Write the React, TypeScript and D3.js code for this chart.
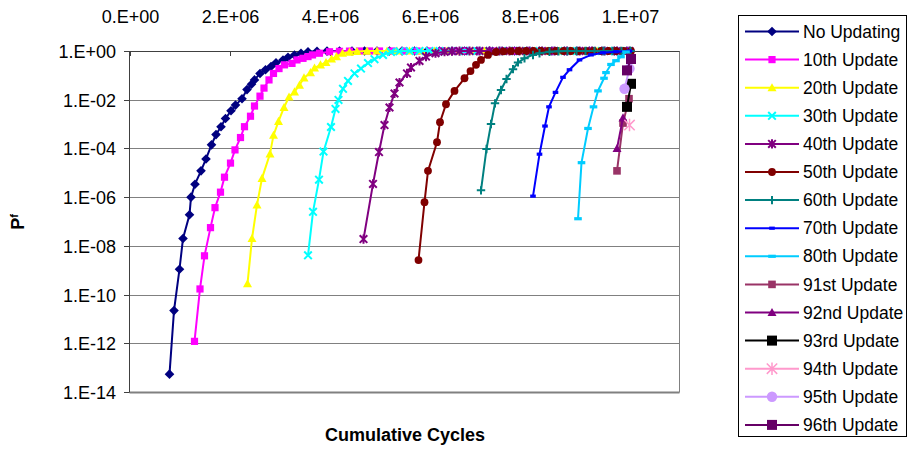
import React, { useEffect, useRef } from 'react';
import * as d3 from 'd3';

// [cumulative cycles (millions), Pf]
const noUpdating = [
  [0.80, 5.4e-14], [0.89, 2.2e-11], [1.00, 1.1e-9], [1.07, 2.0e-8], [1.20, 1.9e-7], [1.23, 1.0e-6],
  [1.31, 3.4e-6], [1.43, 1.2e-5], [1.53, 3.7e-5], [1.64, 1.4e-4], [1.73, 3.7e-4], [1.83, 7.8e-4],
  [1.92, 1.7e-3], [2.03, 3.5e-3], [2.12, 6.0e-3], [2.25, 1.1e-2], [2.35, 2.6e-2], [2.44, 4.3e-2],
  [2.50, 6.5e-2], [2.61, 0.12], [2.72, 0.17], [2.83, 0.23], [2.93, 0.33], [3.07, 0.43], [3.17, 0.55],
  [3.30, 0.69], [3.43, 0.81], [3.57, 0.93], [3.75, 0.97], [3.95, 0.99], [4.2, 1], [4.45, 1], [4.7, 1],
  [4.95, 1], [5.2, 1], [5.45, 1], [5.7, 1], [5.95, 1], [6.2, 1], [6.45, 1], [6.7, 1], [6.95, 1], [7.2, 1],
  [7.45, 1], [7.7, 1], [7.95, 1], [8.2, 1], [8.45, 1], [8.7, 1], [8.95, 1], [9.2, 1], [9.45, 1], [9.7, 1], [9.95, 1],
];
const update10 = [
  [1.30, 1.2e-12], [1.41, 1.7e-10], [1.50, 3.9e-9], [1.62, 5.6e-8], [1.71, 3.7e-7], [1.82, 1.6e-6],
  [1.90, 6.6e-6], [2.02, 2.5e-5], [2.11, 8.7e-5], [2.22, 2.8e-4], [2.30, 7.8e-4], [2.42, 2.1e-3],
  [2.50, 5.5e-3], [2.61, 1.4e-2], [2.69, 3.0e-2], [2.79, 6.5e-2], [2.88, 0.12], [2.99, 0.19], [3.10, 0.27],
  [3.25, 0.31], [3.35, 0.43], [3.47, 0.50], [3.57, 0.59], [3.66, 0.69], [3.80, 0.81], [4.00, 0.93],
  [4.2, 0.97], [4.4, 0.99], [4.6, 1], [4.8, 1], [5.0, 1], [5.25, 1], [5.5, 1], [5.75, 1], [6.0, 1], [6.25, 1],
  [6.5, 1], [6.75, 1], [7.0, 1], [7.25, 1], [7.5, 1], [7.75, 1], [8.0, 1], [8.25, 1], [8.5, 1], [8.75, 1],
  [9.0, 1], [9.25, 1], [9.5, 1], [9.75, 1], [10.0, 1],
];
const update20 = [
  [2.36, 2.8e-10], [2.45, 2.0e-8], [2.55, 4.8e-7], [2.65, 5.9e-6], [2.81, 6.0e-5], [2.88, 3.5e-4],
  [2.98, 1.3e-3], [3.09, 4.8e-3], [3.19, 1.3e-2], [3.30, 2.1e-2], [3.40, 4.0e-2], [3.49, 7.9e-2],
  [3.62, 0.13], [3.70, 0.20], [3.82, 0.27], [3.93, 0.34], [4.04, 0.47], [4.14, 0.59], [4.26, 0.81],
  [4.4, 0.9], [4.55, 0.96], [4.75, 0.99], [4.95, 1], [5.15, 1], [5.35, 1], [5.6, 1], [5.85, 1], [6.1, 1],
  [6.35, 1], [6.6, 1], [6.85, 1], [7.1, 1], [7.35, 1], [7.6, 1], [7.85, 1], [8.1, 1], [8.35, 1], [8.6, 1],
  [8.85, 1], [9.1, 1], [9.35, 1], [9.6, 1], [9.85, 1],
];
const update30 = [
  [3.57, 4.1e-9], [3.67, 2.5e-7], [3.79, 5.2e-6], [3.88, 7.4e-5], [4.03, 7.6e-4], [4.12, 4.2e-3],
  [4.18, 9.8e-3], [4.27, 2.8e-2], [4.37, 5.9e-2], [4.50, 0.12], [4.63, 0.19], [4.77, 0.32], [4.90, 0.46],
  [5.07, 0.69], [5.23, 0.91], [5.4, 0.97], [5.6, 0.99], [5.8, 1], [6.0, 1], [6.2, 1], [6.45, 1], [6.7, 1],
  [6.95, 1], [7.2, 1], [7.45, 1], [7.7, 1], [7.95, 1], [8.2, 1], [8.45, 1], [8.7, 1], [8.95, 1], [9.2, 1],
  [9.45, 1], [9.7, 1], [9.95, 1],
];
const update40 = [
  [4.68, 1.9e-8], [4.87, 3.5e-6], [4.99, 7.1e-5], [5.10, 9.1e-4], [5.20, 4.8e-3], [5.30, 1.8e-2],
  [5.40, 5.1e-2], [5.55, 0.12], [5.63, 0.21], [5.80, 0.39], [5.93, 0.59], [6.12, 0.81], [6.30, 0.93],
  [6.45, 0.98], [6.6, 0.99], [6.8, 1], [7.0, 1], [7.2, 1], [7.4, 1], [7.6, 1], [7.8, 1], [8.0, 1], [8.25, 1],
  [8.5, 1], [8.75, 1], [9.0, 1], [9.25, 1], [9.5, 1], [9.75, 1], [10.0, 1],
];
const update50 = [
  [5.78, 2.6e-9], [5.90, 6.2e-7], [5.97, 1.2e-5], [6.15, 1.8e-4], [6.21, 1.2e-3], [6.33, 6.5e-3],
  [6.50, 2.3e-2], [6.70, 7.6e-2], [6.82, 0.15], [6.93, 0.27], [7.03, 0.43], [7.17, 0.69], [7.33, 0.91],
  [7.48, 0.97], [7.63, 0.99], [7.78, 1], [7.93, 1], [8.08, 1], [8.23, 1], [8.38, 1], [8.53, 1], [8.68, 1],
  [8.83, 1], [8.98, 1], [9.13, 1], [9.28, 1], [9.43, 1], [9.58, 1], [9.73, 1], [9.88, 1], [10.03, 1],
];
const update60 = [
  [7.03, 1.9e-6], [7.14, 9.5e-5], [7.23, 1.0e-3], [7.31, 7.1e-3], [7.43, 2.5e-2], [7.54, 7.1e-2],
  [7.67, 0.18], [7.77, 0.34], [7.90, 0.50], [8.07, 0.69], [8.20, 0.81], [8.40, 0.93], [8.58, 0.98],
  [8.76, 0.99], [8.94, 1], [9.12, 1], [9.3, 1], [9.48, 1], [9.66, 1], [9.84, 1], [10.02, 1],
];
const update70 = [
  [8.07, 1.1e-6], [8.20, 5.8e-5], [8.31, 8.3e-4], [8.39, 5.1e-3], [8.52, 2.0e-2], [8.67, 8.3e-2],
  [8.80, 0.17], [9.00, 0.43], [9.23, 0.69], [9.47, 0.85], [9.73, 0.93], [10.0, 1],
];
const update80 = [
  [8.97, 1.3e-7], [9.04, 2.6e-5], [9.17, 6.6e-4], [9.28, 5.1e-3], [9.37, 2.3e-2], [9.49, 7.6e-2],
  [9.53, 0.13], [9.63, 0.28], [9.73, 0.40], [9.83, 0.58], [9.93, 0.91],
];
const update91 = [[9.75, 1.2e-5], [9.87, 1.1e-3], [9.99, 1.1e-2]];
const update92 = [[9.75, 1.0e-4], [9.87, 1.8e-3]];
const update93 = [[9.95, 5.1e-3], [10.03, 4.5e-2]];
const update94 = [[10.0, 9.1e-4]];
const update95 = [[9.90, 2.8e-2], [10.0, 0.19]];
const update96 = [[9.95, 0.16], [10.03, 0.47]];

const seriesNames = [
  'No Updating', '10th Update', '20th Update', '30th Update', '40th Update', '50th Update',
  '60th Update', '70th Update', '80th Update', '91st Update', '92nd Update', '93rd Update',
  '94th Update', '95th Update', '96th Update',
];
const seriesData = [
  noUpdating, update10, update20, update30, update40, update50, update60, update70,
  update80, update91, update92, update93, update94, update95, update96,
];
const xTicks = [0, 2, 4, 6, 8, 10];
const yTicks = [1, 1e-2, 1e-4, 1e-6, 1e-8, 1e-10, 1e-12, 1e-14];

const looks = [
  { color: '#000080', marker: 'diamond', s: 4.8 },
  { color: '#FF00FF', marker: 'square', s: 3.6 },
  { color: '#FFFF00', marker: 'triangle', s: 4.5 },
  { color: '#00FFFF', marker: 'x', s: 3.8 },
  { color: '#800080', marker: 'star', s: 3.8 },
  { color: '#800000', marker: 'circle', s: 3.9 },
  { color: '#008080', marker: 'plus', s: 4.2 },
  { color: '#0000FF', marker: 'dash', s: 2.8 },
  { color: '#00CCFF', marker: 'dash', s: 3.8 },
  { color: '#993366', marker: 'square', s: 3.8 },
  { color: '#800080', marker: 'triangle', s: 4.5 },
  { color: '#000000', marker: 'square', s: 5 },
  { color: '#FF99CC', marker: 'star', s: 5.2 },
  { color: '#CC99FF', marker: 'circle', s: 5.2 },
  { color: '#660066', marker: 'square', s: 5 },
];

const FONT = '"Liberation Sans", Arial, sans-serif';

function drawMarker(g, kind, s, color, x, y) {
  if (kind === 'diamond') {
    g.append('path').attr('d', `M${x},${y - s}L${x + s},${y}L${x},${y + s}L${x - s},${y}Z`).attr('fill', color);
  } else if (kind === 'square') {
    g.append('rect').attr('x', x - s).attr('y', y - s).attr('width', 2 * s).attr('height', 2 * s).attr('fill', color);
  } else if (kind === 'triangle') {
    g.append('path').attr('d', `M${x},${y - s}L${x + s},${y + s * 0.8}L${x - s},${y + s * 0.8}Z`).attr('fill', color);
  } else if (kind === 'circle') {
    g.append('circle').attr('cx', x).attr('cy', y).attr('r', s).attr('fill', color);
  } else if (kind === 'dash') {
    g.append('rect').attr('x', x - s).attr('y', y - 1.6).attr('width', 2 * s).attr('height', 3.2).attr('fill', color);
  } else {
    let d = '';
    if (kind === 'x' || kind === 'star') d += `M${x - s},${y - s}L${x + s},${y + s}M${x - s},${y + s}L${x + s},${y - s}`;
    if (kind === 'star') d += `M${x},${y - s * 1.2}L${x},${y + s * 1.2}`;
    if (kind === 'plus') d += `M${x - s},${y}L${x + s},${y}M${x},${y - s}L${x},${y + s}`;
    g.append('path').attr('d', d).attr('stroke', color).attr('stroke-width', kind === 'star' && s > 4.5 ? 1.5 : 2).attr('fill', 'none');
  }
}

function sciLabel(v: number) {
  if (v === 0) return '0.E+00';
  const e = Math.floor(Math.log10(v) + 1e-9);
  const m = Math.round(v / Math.pow(10, e));
  const sign = e < 0 ? '-' : '+';
  return `${m}.E${sign}${String(Math.abs(e)).padStart(2, '0')}`;
}

const App = () => {
  const ref = useRef(null);

  useEffect(() => {
    const svg = d3.select(ref.current);
    svg.selectAll('*').remove();

    const x = d3.scaleLinear().domain([0, 11]).range([129.5, 679.5]);
    const y = d3.scaleLog().domain([1e-14, 1]).range([392, 51]);

    // gridlines
    svg.append('g').selectAll('line').data(yTicks).enter().append('line')
      .attr('x1', 129.5).attr('x2', 679.5)
      .attr('y1', d => Math.round(y(d)) + 0.5).attr('y2', d => Math.round(y(d)) + 0.5)
      .attr('stroke', '#808080').attr('stroke-width', d => (d === 1e-14 ? 2 : 1));
    svg.append('line').attr('x1', 679.5).attr('x2', 679.5).attr('y1', 51).attr('y2', 392.5)
      .attr('stroke', '#808080');

    // y axis
    const yAxis = svg.append('g');
    yAxis.append('line').attr('x1', 129.5).attr('x2', 129.5).attr('y1', 51).attr('y2', 392.5).attr('stroke', '#404040');
    yTicks.forEach(t => {
      const yy = Math.round(y(t)) + 0.5;
      yAxis.append('line').attr('x1', 124).attr('x2', 129.5).attr('y1', yy).attr('y2', yy).attr('stroke', '#404040');
      yAxis.append('text').attr('x', 116).attr('y', yy).attr('dy', '0.35em').attr('text-anchor', 'end')
        .style('font-family', FONT).style('font-size', '18px').attr('fill', '#000').text(sciLabel(t));
    });

    // x axis (top)
    const xAxis = svg.append('g');
    xAxis.append('line').attr('x1', 129.5).attr('x2', 679.5).attr('y1', 51.5).attr('y2', 51.5).attr('stroke', '#404040');
    xTicks.forEach(t => {
      const xx = Math.round(x(t)) + 0.5;
      xAxis.append('line').attr('x1', xx).attr('x2', xx).attr('y1', 51).attr('y2', 56).attr('stroke', '#404040');
      xAxis.append('text').attr('x', xx).attr('y', 17).attr('dy', '0.35em').attr('text-anchor', 'middle')
        .style('font-family', FONT).style('font-size', '18px').attr('fill', '#000').text(sciLabel(t * 1e6));
    });

    // series
    const line = d3.line().x(d => x(d[0])).y(d => y(d[1]));
    seriesData.forEach((data, i) => {
      const look = looks[i];
      const g = svg.append('g');
      if (data.length > 1) {
        g.append('path').attr('d', line(data)).attr('fill', 'none').attr('stroke', look.color).attr('stroke-width', 2);
      }
      data.forEach(d => drawMarker(g, look.marker, look.s, look.color, x(d[0]), y(d[1])));
    });

    // axis titles
    svg.append('text').attr('x', 405).attr('y', 435).attr('dy', '0.35em').attr('text-anchor', 'middle')
      .style('font-family', FONT).style('font-size', '18px').style('font-weight', 'bold').text('Cumulative Cycles');
    const pf = svg.append('text').attr('transform', 'translate(24,222) rotate(-90)').attr('text-anchor', 'middle')
      .style('font-family', FONT).style('font-size', '18px').style('font-weight', 'bold');
    pf.append('tspan').text('P');
    pf.append('tspan').attr('dy', -6).style('font-size', '11px').text('f');

    // legend
    const legend = svg.append('g');
    legend.append('rect').attr('x', 738.5).attr('y', 15.5).attr('width', 168).attr('height', 421)
      .attr('fill', '#fff').attr('stroke', '#000');
    seriesNames.forEach((name, i) => {
      const ly = 31.5 + i * 28.1;
      const look = looks[i];
      legend.append('line').attr('x1', 745).attr('x2', 799).attr('y1', ly).attr('y2', ly)
        .attr('stroke', look.color).attr('stroke-width', 2);
      drawMarker(legend, look.marker, look.s, look.color, 772, ly);
      legend.append('text').attr('x', 803).attr('y', ly).attr('dy', '0.35em')
        .style('font-family', FONT).style('font-size', '17.5px').attr('fill', '#000').text(name);
    });
  }, []);

  return <svg ref={ref} width={911} height={450} style={{ position: 'absolute', left: 0, top: 0, background: '#fff' }} />;
};

export default App;
